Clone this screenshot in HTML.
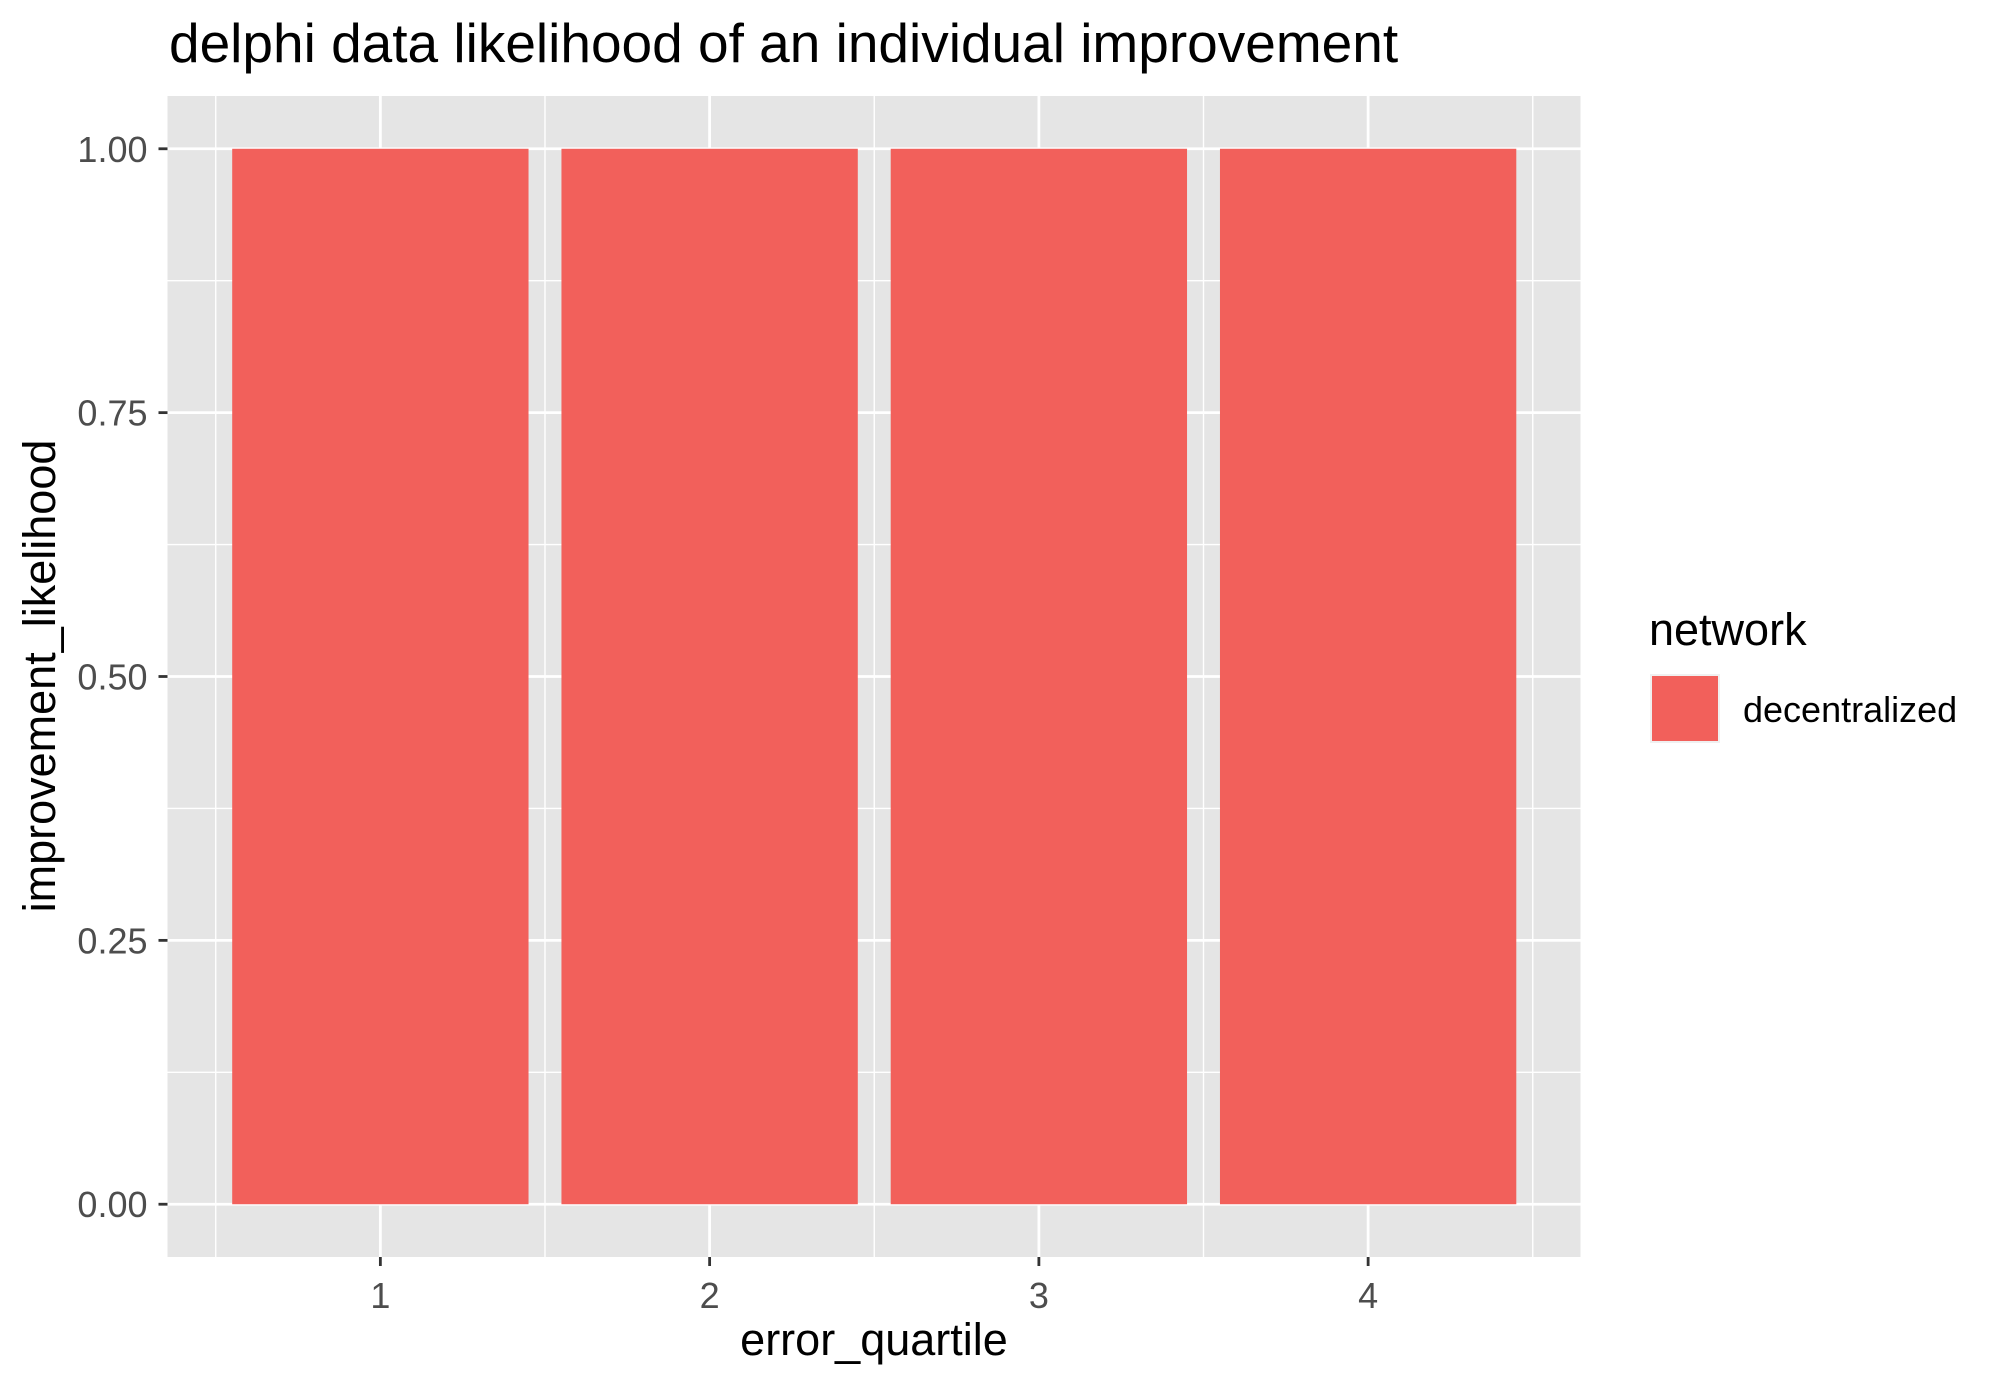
<!DOCTYPE html>
<html><head><meta charset="utf-8"><style>
html,body{margin:0;padding:0;background:#fff;}
svg{display:block;font-family:"Liberation Sans",Arial,sans-serif;}
</style></head><body>
<svg id="chart" width="2008" height="1387" viewBox="0 0 2008 1387" xmlns="http://www.w3.org/2000/svg">
<text x="169" y="62" font-size="55" fill="#000">delphi data likelihood of an individual improvement</text>
<rect x="167.5" y="96" width="1413" height="1161" fill="#e5e5e5"/>
<g id="grid"></g>
<g id="bars"></g>
<g id="axes"></g>
<text x="874" y="1355" font-size="45" text-anchor="middle" fill="#000">error_quartile</text>
<text transform="translate(55,676) rotate(-90)" font-size="45" text-anchor="middle" fill="#000">improvement_likelihood</text>
<g>
<text x="1649" y="645" font-size="45" fill="#000">network</text>
<rect x="1651" y="675" width="68" height="67" fill="#f2605b" stroke="#f0f0f0" stroke-width="2"/>
<text x="1743" y="722" font-size="36" fill="#000">decentralized</text>
</g>
</svg>
<script>
const categories = ["1","2","3","4"];
const seriesValues = [1.0, 1.0, 1.0, 1.0];
const yTicks = [0, 0.25, 0.5, 0.75, 1.0];
const yTickLabels = ["0.00","0.25","0.50","0.75","1.00"];

const NS = "http://www.w3.org/2000/svg";
const pL = 167.5, pR = 1580.5, pT = 96, pB = 1257;
const xMin = 0.3535, xMax = 4.645, yMin = -0.05, yMax = 1.05;
function xs(v){ return pL + (v - xMin) / (xMax - xMin) * (pR - pL); }
function ys(v){ return pB - (v - yMin) / (yMax - yMin) * (pB - pT); }
function mk(tag, attrs, parent){ const e = document.createElementNS(NS, tag); for (const k in attrs) e.setAttribute(k, attrs[k]); parent.appendChild(e); return e; }

const grid = document.getElementById("grid");
const bars = document.getElementById("bars");
const axes = document.getElementById("axes");

for (let i = 0; i < yTicks.length - 1; i++) {
  const m = (yTicks[i] + yTicks[i+1]) / 2;
  const l = mk("line", {x1:pL, x2:pR, y1:ys(m), y2:ys(m), stroke:"#fff", "stroke-width":1.4}, grid);
  
  
}
for (let i = 0; i <= categories.length; i++) {
  const xv = i + 0.5;
  const l = mk("line", {x1:xs(xv), x2:xs(xv), y1:pT, y2:pB, stroke:"#fff", "stroke-width":1.4}, grid);
  
  
}
yTicks.forEach((t, i) => {
  const l = mk("line", {x1:pL, x2:pR, y1:ys(t), y2:ys(t), stroke:"#fff", "stroke-width":2.8}, grid);
  
  
  const tk = mk("line", {x1:pL-9, x2:pL, y1:ys(t), y2:ys(t), stroke:"#333", "stroke-width":2.8}, axes);
  
  
  const tx = mk("text", {x:pL-20, y:ys(t)+13, "font-size":36, "text-anchor":"end", fill:"#4d4d4d"}, axes);
  tx.textContent = yTickLabels[i];
  
  
});
categories.forEach((c, i) => {
  const xv = i + 1;
  const l = mk("line", {x1:xs(xv), x2:xs(xv), y1:pT, y2:pB, stroke:"#fff", "stroke-width":2.8}, grid);
  
  
  const b = mk("rect", {x:xs(xv-0.45), y:ys(seriesValues[i]), width:xs(xv+0.45)-xs(xv-0.45), height:ys(0)-ys(seriesValues[i]), fill:"#f2605b"}, bars);
  
  
  const tk = mk("line", {x1:xs(xv), x2:xs(xv), y1:pB, y2:pB+9, stroke:"#333", "stroke-width":2.8}, axes);
  
  
  const tx = mk("text", {x:xs(xv), y:pB+51, "font-size":36, "text-anchor":"middle", fill:"#4d4d4d"}, axes);
  tx.textContent = c;
  
  
});
</script>
</body></html>
